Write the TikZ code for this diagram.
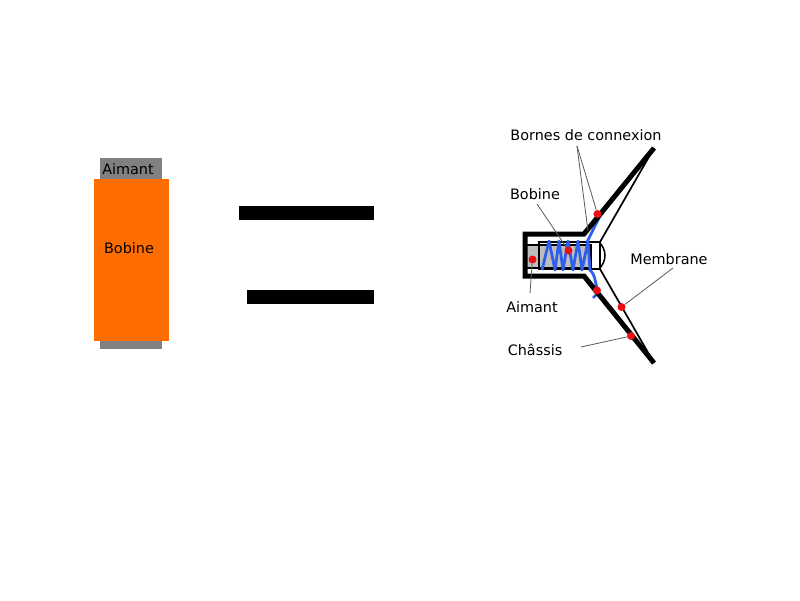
\documentclass[tikz,border=0pt]{standalone}
\usepackage{fontspec}
\setmainfont{DejaVu Sans}
\definecolor{coilblue}{RGB}{45,95,235}
\definecolor{bobineorange}{RGB}{255,109,0}
\definecolor{aimantgrey}{RGB}{128,128,128}
\definecolor{lightgrey}{RGB}{190,190,190}
\definecolor{dotred}{RGB}{235,15,20}
\tikzset{
  lbl/.style={font=\fontsize{14.4}{16}\selectfont, inner sep=0pt, text=black},
  leader/.style={draw=black!65, line width=0.8pt},
  chassis/.style={draw=black, line width=5pt, line join=miter},
  membrane/.style={draw=black, line width=1.7pt},
  coil/.style={draw=coilblue, line width=2.8pt, line join=round},
  dotmark/.style={circle, fill=dotred, inner sep=0pt, minimum size=8pt},
  bar/.style={fill=black, draw=none}
}
\begin{document}
\begin{tikzpicture}[x=1pt,y=-1pt]
\useasboundingbox[fill=white] (0,0) rectangle (800,600);
% left
\fill[aimantgrey] (100,158) rectangle (162,349);
\fill[bobineorange] (94,179) rectangle (169,341);
\node[lbl] (aimantL) at (128,169) {Aimant};
\node[lbl] (bobineL) at (129,248) {Bobine};
% bars
\fill[bar] (239,206) rectangle (374,220);
\fill[bar] (247,290) rectangle (374,304);
% right: magnet
\fill[lightgrey] (526,245) rectangle (591,267);
\draw[black,line width=2.6pt] (527,245) -- (591,245) -- (591,268) -- (527,268);
% former
\draw[black,line width=1.8pt] (539,242) rectangle (600,269);
% coil
\draw[coil] (542,270) -- (549,241) -- (555,270) -- (559,241) -- (563,270) -- (568,241) -- (573,270) -- (578,241) -- (582,270) -- (588,241) -- (590,270);
\draw[coil] (587,242) -- (600,216) (594,213) -- (601,217);
\draw[coil] (589,269) .. controls (597,276) and (594,284) .. (599,292) -- (593,298);
% cap
\draw[black,line width=1.5pt] (599,242) .. controls (607,250) and (607,261) .. (599,269);
% membrane
\draw[membrane] (600,242) -- (654,148);
\draw[membrane] (600,269) -- (654,363);
% chassis
\draw[chassis] (654,148) -- (584,234) -- (525,234) -- (525,276) -- (584,276) -- (654,363);
% leaders
\coordinate (lb1) at (577,146);
\coordinate (lb2) at (588,231);
\coordinate (lbob) at (537,204);
\coordinate (laim) at (530,293);
\coordinate (lmem) at (673,268);
\coordinate (lcha) at (581,347);
\node[dotmark] (d1) at (597.5,214) {};
\node[dotmark] (d2) at (568.5,250.5) {};
\node[dotmark] (d3) at (532.5,259.5) {};
\node[dotmark] (d4) at (597,290.5) {};
\node[dotmark] (d5) at (621.5,307) {};
\node[dotmark] (d6) at (631,336) {};
\draw[leader] (lb1) -- (lb2);
\draw[leader] (lb1) -- (d1);
\draw[leader] (lbob) -- (d2);
\draw[leader] (laim) -- (d3);
\draw[leader] (lmem) -- (d5);
\draw[leader] (lcha) -- (d6);
\node[lbl] (t1) at (586,135) {Bornes de connexion};
\node[lbl] (t2) at (535,194) {Bobine};
\node[lbl] (t3) at (532,307) {Aimant};
\node[lbl] (t4) at (669,259) {Membrane};
\node[lbl] (t5) at (535,350) {Châssis};
\end{tikzpicture}
\end{document}
